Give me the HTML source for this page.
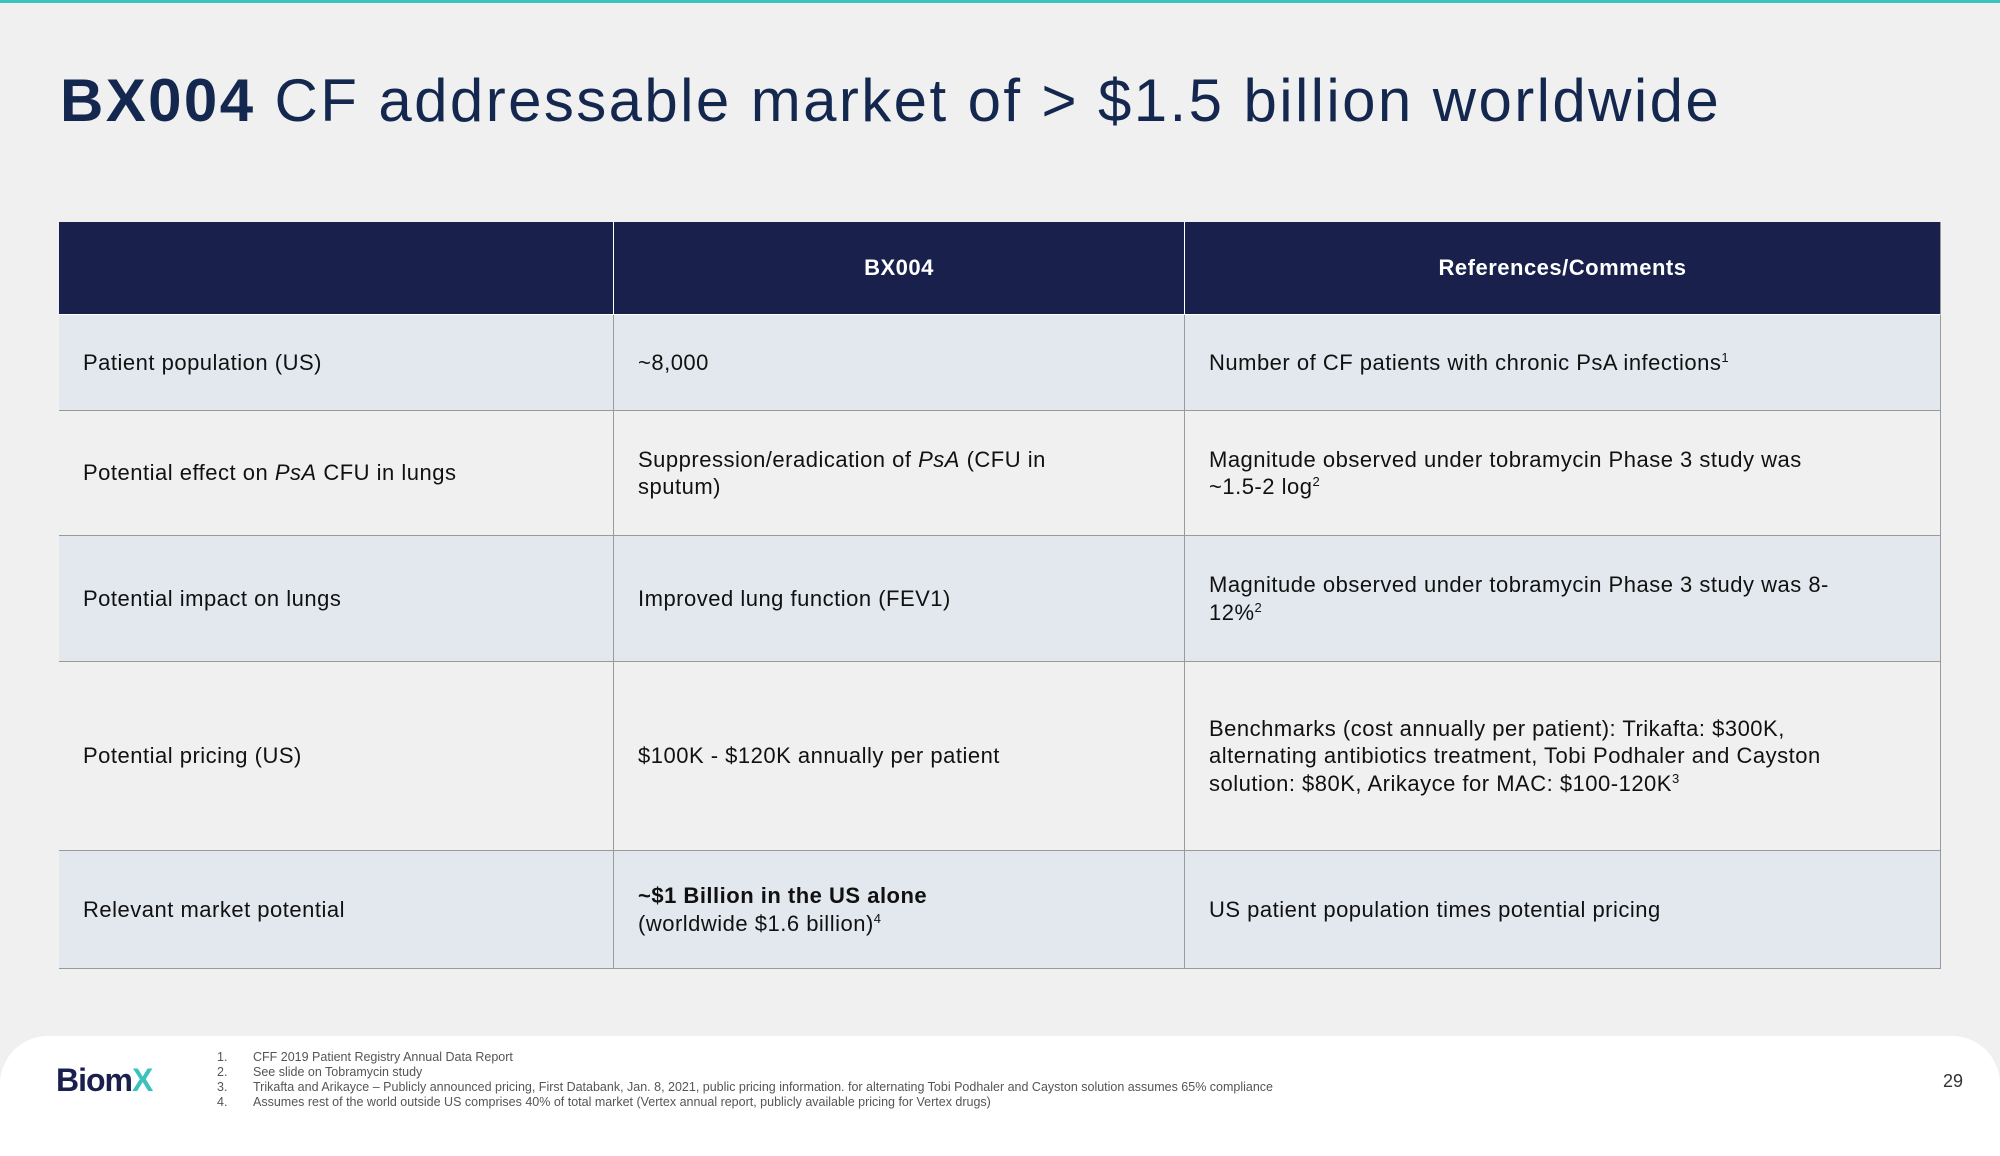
<!DOCTYPE html>
<html><head><meta charset="utf-8"><style>
html,body{margin:0;padding:0}
body{width:2000px;height:1125px;background:#f0f0f0;position:relative;overflow:hidden;font-family:"Liberation Sans",sans-serif;color:#111}
.top{position:absolute;left:0;top:0;width:2000px;height:3px;background:#3cc2bd}
h1{position:absolute;left:60px;top:66px;margin:0;font-size:60px;font-weight:normal;color:#14284f;white-space:nowrap;letter-spacing:2.4px}
h1 b{font-weight:bold}
.cell{position:absolute;box-sizing:border-box;display:flex;align-items:center;padding:0 24px;font-size:22px;line-height:27.5px;letter-spacing:0.5px;border-right:1.5px solid #9a9a9a;border-bottom:1.5px solid #9a9a9a}
.hd{background:#18204b;color:#fff;font-weight:bold;justify-content:center;border-color:#fff}
.a{background:#e2e8ee}.b{background:#f0f0f0}
sup{font-size:13px;line-height:0;vertical-align:8px}
.foot{position:absolute;left:0;top:1036px;width:2000px;height:120px;background:#fff;border-radius:48px 48px 0 0}
.logo{position:absolute;left:56px;top:1062px;font-size:32px;font-weight:bold;color:#1b1f4d;letter-spacing:-1px}
.logo span{color:#3cc2bd}
.fn{position:absolute;left:217px;font-size:12.5px;color:#555;white-space:nowrap}
.fn i{font-style:normal;display:inline-block;width:36px}
.pg{position:absolute;left:1943px;top:1071px;font-size:18px;color:#333}
</style></head><body>
<div class="top"></div>
<h1><b>BX004</b> CF addressable market of &gt; $1.5 billion worldwide</h1>
<div style="position:absolute;left:59px;top:222px;width:1882px;height:747px;border-left:1.5px solid #9a9a9a;border-top:1.5px solid #9a9a9a;box-sizing:border-box">
</div>
<div class="cell hd" style="left:59px;top:222px;width:555px;height:93px"></div>
<div class="cell hd" style="left:614px;top:222px;width:571px;height:93px">BX004</div>
<div class="cell hd" style="left:1185px;top:222px;width:756px;height:93px;border-right-color:#9a9a9a">References/Comments</div>

<div class="cell a" style="left:59px;top:315px;width:555px;height:96px">Patient population (US)</div>
<div class="cell a" style="left:614px;top:315px;width:571px;height:96px">~8,000</div>
<div class="cell a" style="left:1185px;top:315px;width:756px;height:96px"><div>Number of CF patients with chronic PsA infections<sup>1</sup></div></div>

<div class="cell b" style="left:59px;top:411px;width:555px;height:125px"><div>Potential effect on <i>PsA</i> CFU in lungs</div></div>
<div class="cell b" style="left:614px;top:411px;width:571px;height:125px"><div>Suppression/eradication of <i>PsA</i> (CFU in<br>sputum)</div></div>
<div class="cell b" style="left:1185px;top:411px;width:756px;height:125px"><div>Magnitude observed under tobramycin Phase 3 study was<br>~1.5-2 log<sup>2</sup></div></div>

<div class="cell a" style="left:59px;top:536px;width:555px;height:126px">Potential impact on lungs</div>
<div class="cell a" style="left:614px;top:536px;width:571px;height:126px">Improved lung function (FEV1)</div>
<div class="cell a" style="left:1185px;top:536px;width:756px;height:126px"><div>Magnitude observed under tobramycin Phase 3 study was 8-<br>12%<sup>2</sup></div></div>

<div class="cell b" style="left:59px;top:662px;width:555px;height:189px">Potential pricing (US)</div>
<div class="cell b" style="left:614px;top:662px;width:571px;height:189px">$100K - $120K annually per patient</div>
<div class="cell b" style="left:1185px;top:662px;width:756px;height:189px"><div>Benchmarks (cost annually per patient): Trikafta: $300K,<br>alternating antibiotics treatment, Tobi Podhaler and Cayston<br>solution: $80K, Arikayce for MAC: $100-120K<sup>3</sup></div></div>

<div class="cell a" style="left:59px;top:851px;width:555px;height:118px">Relevant market potential</div>
<div class="cell a" style="left:614px;top:851px;width:571px;height:118px"><div><b>~$1 Billion in the US alone</b><br>(worldwide $1.6 billion)<sup>4</sup></div></div>
<div class="cell a" style="left:1185px;top:851px;width:756px;height:118px">US patient population times potential pricing</div>

<div class="foot"></div>
<div class="logo">Biom<span>X</span></div>
<div class="fn" style="top:1050px"><i>1.</i>CFF 2019 Patient Registry Annual Data Report</div>
<div class="fn" style="top:1065px"><i>2.</i>See slide on Tobramycin study</div>
<div class="fn" style="top:1080px"><i>3.</i>Trikafta and Arikayce – Publicly announced pricing, First Databank, Jan. 8, 2021, public pricing information. for alternating Tobi Podhaler and Cayston solution assumes 65% compliance</div>
<div class="fn" style="top:1095px"><i>4.</i>Assumes rest of the world outside US comprises 40% of total market (Vertex annual report, publicly available pricing for Vertex drugs)</div>
<div class="pg">29</div>
</body></html>
